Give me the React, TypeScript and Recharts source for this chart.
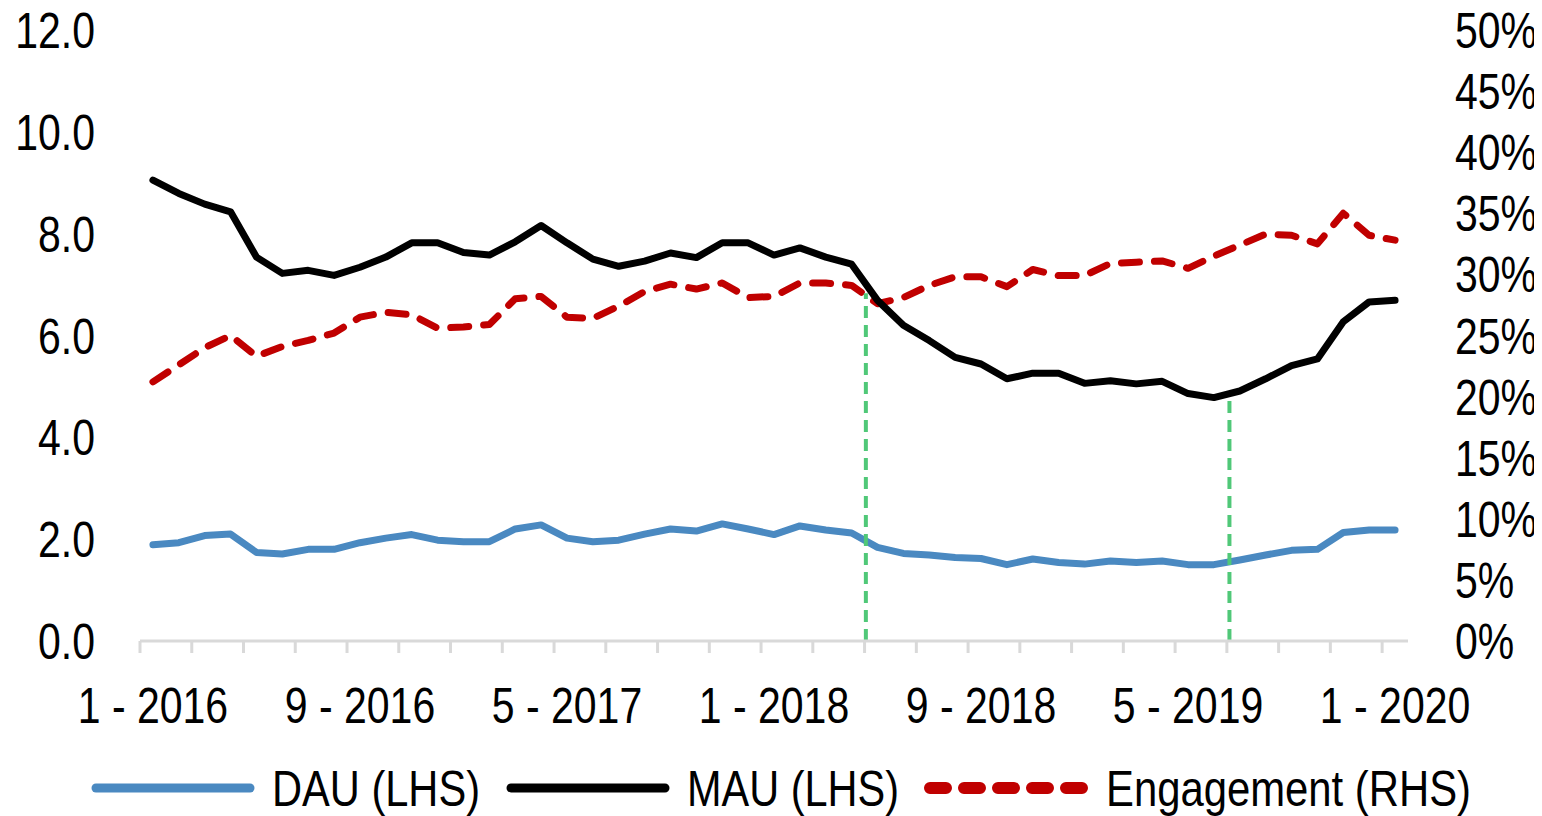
import React from "react";
import { LineChart, Line, XAxis, YAxis, ReferenceLine } from "recharts";

const monthIdx = Array.from({ length: 49 }, (_, i) => i);

const dau = [
  1.89, 1.93, 2.07, 2.1, 1.74, 1.71, 1.8, 1.8, 1.93, 2.02,
  2.09, 1.98, 1.95, 1.95, 2.2, 2.28, 2.02, 1.95, 1.98, 2.1,
  2.2, 2.16, 2.3, 2.2, 2.09, 2.26, 2.18, 2.12, 1.84, 1.72,
  1.69, 1.64, 1.62, 1.5, 1.61, 1.54, 1.51, 1.57, 1.54, 1.57,
  1.5, 1.5, 1.59, 1.69, 1.78, 1.8, 2.13, 2.18, 2.18,
];

const mau = [
  9.05, 8.79, 8.58, 8.43, 7.54, 7.22, 7.28, 7.18, 7.34, 7.54,
  7.82, 7.82, 7.63, 7.58, 7.84, 8.16, 7.82, 7.5, 7.36, 7.46,
  7.62, 7.53, 7.82, 7.82, 7.58, 7.72, 7.54, 7.4, 6.69, 6.2,
  5.9, 5.57, 5.44, 5.15, 5.26, 5.26, 5.06, 5.11, 5.05, 5.1,
  4.86, 4.78, 4.91, 5.15, 5.41, 5.54, 6.27, 6.66, 6.69,
];

// engagement in %
const engagement = [
  21.2, 22.6, 24.0, 25.0, 23.3, 24.1, 24.6, 25.2, 26.5, 26.9,
  26.7, 25.6, 25.7, 25.9, 28.0, 28.2, 26.5, 26.4, 27.4, 28.6,
  29.2, 28.8, 29.3, 28.1, 28.2, 29.3, 29.3, 29.1, 27.6, 28.1,
  29.1, 29.8, 29.8, 29.0, 30.4, 29.9, 29.9, 30.9, 31.0, 31.1,
  30.5, 31.5, 32.4, 33.3, 33.2, 32.5, 35.0, 33.2, 32.8,
];

const labelTicks = [0, 8, 16, 24, 32, 40, 48];
const labelText = ["1 - 2016", "9 - 2016", "5 - 2017", "1 - 2018", "9 - 2018", "5 - 2019", "1 - 2020"];
const boundaryTicks = Array.from({ length: 25 }, (_, i) => i * 2 - 0.5);
const xTicks = [...boundaryTicks, ...labelTicks].sort((a, b) => a - b);

const leftTicks = [0, 2, 4, 6, 8, 10, 12];
const rightTicks = [0, 5, 10, 15, 20, 25, 30, 35, 40, 45, 50];

// green dashed markers: x position (month index) and top (LHS value)
const markerX = [27.55, 41.6];
const markerTop = [6.83, 4.82];

const series = [
  { key: "dau", name: "DAU (LHS)", color: "#4a89c1", dash: undefined, width: 9, textW: 208 },
  { key: "mau", name: "MAU (LHS)", color: "#000000", dash: undefined, width: 9, textW: 212 },
  { key: "eng", name: "Engagement (RHS)", color: "#c00000", dash: "16 18", width: 12, textW: 365 },
];

const data = monthIdx.map((i) => ({ idx: i, dau: dau[i], mau: mau[i], eng: engagement[i] }));

const FONT = "'Liberation Sans', Arial, sans-serif";
// no narrow font available, squeeze regular one
const SQUEEZE = 0.82;

const NarrowText = ({ x, y, anchor, children }: any) => (
  <text
    transform={`translate(${x},${y}) scale(${SQUEEZE},1)`}
    textAnchor={anchor}
    dy="0.36em"
    fontSize={50}
    fontFamily={FONT}
    fill="#000"
  >
    {children}
  </text>
);

const LeftTick = ({ x, y, payload }: any) => (
  <NarrowText x={x} y={y} anchor="end">
    {Number(payload.value).toFixed(1)}
  </NarrowText>
);

const RightTick = ({ x, y, payload }: any) => (
  <NarrowText x={x} y={y} anchor="start">
    {`${payload.value}%`}
  </NarrowText>
);

const BottomTick = ({ x, y, payload }: any) => {
  const li = labelTicks.indexOf(payload.value);
  if (li >= 0) {
    return (
      <NarrowText x={x} y={y + 64} anchor="middle">
        {labelText[li]}
      </NarrowText>
    );
  }
  return <line x1={x} x2={x} y1={y} y2={y + 12} stroke="#d9d9d9" strokeWidth={3} />;
};

const Legend = () => {
  let cx = 82;
  return (
    <svg width={1534} height={60} style={{ position: "absolute", left: 0, top: 750 }}>
      {series.map((s) => {
        const x0 = cx;
        cx += 165 + 17 + s.textW + 25;
        return (
          <g key={s.key}>
            <line
              x1={x0 + 6}
              y1={30}
              x2={x0 + 160}
              y2={30}
              stroke={s.color}
              strokeWidth={s.width}
              strokeLinecap="round"
              strokeDasharray={s.dash}
            />
            <text
              x={x0 + 182}
              y={48}
              fontSize={50}
              fontFamily={FONT}
              fill="#000"
              textLength={s.textW}
              lengthAdjust="spacingAndGlyphs"
            >
              {s.name}
            </text>
          </g>
        );
      })}
    </svg>
  );
};

export default function App() {
  return (
    <div style={{ position: "relative", width: 1534, height: 808 }}>
      <LineChart
        width={1534}
        height={808}
        data={data}
        margin={{ top: 22, right: 0, left: 0, bottom: 75 }}
        style={{ overflow: "visible" }}
      >
        <XAxis
          xAxisId="main"
          dataKey="idx"
          type="number"
          domain={[-0.5, 48.5]}
          ticks={xTicks}
          interval={0}
          height={100}
          tickSize={0}
          tickMargin={0}
          axisLine={{ stroke: "#d9d9d9", strokeWidth: 3 }}
          tickLine={false}
          tick={<BottomTick />}
        />
        <YAxis
          yAxisId="l"
          domain={[0, 12]}
          ticks={leftTicks}
          interval={0}
          width={132}
          axisLine={false}
          tickLine={false}
          tickSize={0}
          tickMargin={45}
          tick={<LeftTick />}
        />
        <YAxis
          yAxisId="r"
          orientation="right"
          domain={[0, 50]}
          ticks={rightTicks}
          interval={0}
          width={134}
          axisLine={false}
          tickLine={false}
          tickSize={0}
          tickMargin={47}
          tick={<RightTick />}
        />
        <Line
          xAxisId="main"
          yAxisId="r"
          dataKey="eng"
          stroke="#c00000"
          strokeWidth={7}
          strokeDasharray="18 15"
          strokeLinecap="round"
          strokeLinejoin="round"
          dot={false}
          isAnimationActive={false}
        />
        <Line
          xAxisId="main"
          yAxisId="l"
          dataKey="mau"
          stroke="#000"
          strokeWidth={7}
          strokeLinejoin="round"
          strokeLinecap="round"
          dot={false}
          isAnimationActive={false}
        />
        <Line
          xAxisId="main"
          yAxisId="l"
          dataKey="dau"
          stroke="#4a89c1"
          strokeWidth={7}
          strokeLinejoin="round"
          strokeLinecap="round"
          dot={false}
          isAnimationActive={false}
        />
        {markerX.map((x, i) => (
          <ReferenceLine
            key={x}
            xAxisId="main"
            yAxisId="l"
            segment={[
              { x, y: 0 },
              { x, y: markerTop[i] },
            ]}
            stroke="#50c878"
            strokeWidth={4}
            strokeDasharray="12 7"
          />
        ))}
      </LineChart>
      <Legend />
    </div>
  );
}
